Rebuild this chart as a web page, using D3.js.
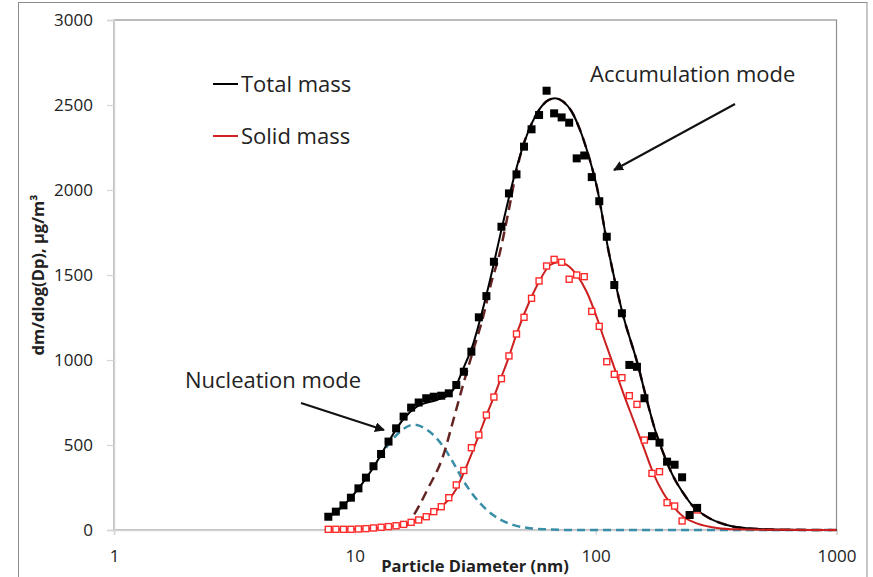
<!DOCTYPE html>
<html>
<head>
<meta charset="utf-8">
<script src="https://cdn.jsdelivr.net/npm/d3@7"></script>
<style>
body { margin: 0; background: #fff; }
text { font-family: "Open Sans", sans-serif; fill: #222; }
</style>
</head>
<body>
<div id="chart"></div>
<script>
// measured size distribution (SMPS channels)
var diam = [7.76, 8.34, 8.97, 9.63, 10.35, 11.12, 11.95, 12.85, 13.80, 14.84,
  15.94, 17.13, 18.41, 19.79, 21.27, 22.85, 24.55, 26.38, 28.35, 30.47,
  32.73, 35.18, 37.80, 40.62, 43.65, 46.91, 50.41, 54.17, 58.21, 62.55,
  67.22, 72.23, 77.62, 83.41, 89.64, 96.33, 103.5, 111.2, 119.5, 128.5,
  138.0, 148.4, 159.4, 171.3, 184.1, 197.9, 212.7, 228.5, 245.5, 263.8];
var totalMass = [78, 108, 145, 190, 245, 308, 375, 447, 520, 598,
  667, 720, 750, 775, 784, 790, 804, 853, 931, 1049,
  1251, 1376, 1578, 1784, 1980, 2092, 2255, 2357, 2441, 2584,
  2451, 2427, 2396, 2186, 2203, 2076, 1934, 1725, 1441, 1275,
  971, 960, 775, 552, 514, 402, 384, 310, 88, 130];
var solidMass = [4, 4, 4, 4, 6, 8, 12, 16, 20, 25,
  33, 45, 59, 78, 108, 137, 190, 265, 350, 484,
  559, 676, 782, 890, 1024, 1153, 1251, 1363, 1465, 1553,
  1592, 1575, 1475, 1500, 1490, 1286, 1198, 990, 916, 896,
  790, 739, 529, 333, 343, 161, 141, 53, 88, 118];

// fitted curves
var fitTotalDp = [7.76, 8.93, 10.31, 11.90, 13.74, 15.86, 18.08, 21.88, 24.45, 26.33,
  28.22, 31.06, 33.65, 36.43, 39.44, 42.74, 46.27, 50.10, 54.28, 58.76,
  63.63, 67.85, 73.43, 79.54, 86.13, 93.26, 101.1, 112.9, 128.5, 150.4,
  163.0, 176.5, 191.1, 210.2, 231.3, 254.5, 289.3, 350.3, 424.2, 583.2, 1000];
var fitTotal = [80, 142, 240, 365, 515, 650, 725, 765, 794, 850,
  950, 1098, 1275, 1471, 1686, 1902, 2098, 2265, 2392, 2480,
  2529, 2539, 2519, 2461, 2353, 2206, 2020, 1647, 1290, 961,
  765, 588, 451, 314, 216, 137, 78, 29, 10, 2, 0];

var fitSolidDp = [7.76, 11.90, 14.83, 17.12, 19.76, 22.80, 26.33, 28.22, 30.38, 32.80,
  35.31, 37.96, 40.09, 43.41, 47.03, 53.42, 58.76, 64.66, 70.00, 75.86,
  83.47, 91.84, 101.1, 107.6, 118.4, 130.3, 143.4, 157.8, 173.6, 191.1,
  210.2, 231.3, 263.0, 318.4, 385.3, 583.2, 1000];
var fitSolid = [2, 10, 25, 45, 80, 135, 240, 330, 440, 560,
  680, 790, 880, 1010, 1157, 1353, 1471, 1559, 1575, 1560,
  1500, 1400, 1250, 1137, 971, 804, 647, 490, 333, 216,
  137, 78, 39, 12, 4, 1, 0];

var accumDp = [16.16, 17.23, 20.14, 23.31, 25.65, 28.22, 31.06, 34.18, 36.78, 39.82,
  43.41, 46.71, 50.10, 54.28, 58.76, 63.63, 67.85, 73.43, 79.54, 86.13,
  93.26, 101.1, 112.9, 128.5, 150.4, 163.0, 176.5, 191.1, 210.2, 231.3,
  254.5, 289.3, 350.3, 424.2, 583.2, 1000];
var accum = [15, 69, 245, 440, 647, 860, 1060, 1260, 1450, 1620,
  1870, 2100, 2265, 2392, 2480, 2529, 2539, 2519, 2461, 2353,
  2206, 2020, 1647, 1290, 961, 765, 588, 451, 314, 216,
  137, 78, 29, 10, 2, 0];

var nuclDp = [7.76, 8.93, 10.31, 11.90, 13.74, 15.41, 17.62, 20.14, 23.31, 25.65,
  28.22, 31.06, 35.31, 40.09, 45.39, 51.75, 61.65, 78.29, 1000];
var nucl = [75, 140, 240, 365, 500, 578, 620, 585, 490, 395,
  290, 205, 118, 62, 30, 13, 4, 0, 0];

var xTicks = [1, 10, 100, 1000];
var yTicks = [0, 500, 1000, 1500, 2000, 2500, 3000];

var width = 873, height = 577;

var svg = d3.select('#chart').append('svg')
    .attr('width', width)
    .attr('height', height);

// outer chart frame
svg.append('rect')
    .attr('x', 18.5).attr('y', 2.5)
    .attr('width', 848.5).attr('height', 600)
    .attr('fill', 'none')
    .attr('stroke', '#8c8c8c');

var xScale = d3.scaleLog().domain([1, 1000]).range([114, 836.5]);
var yScale = d3.scaleLinear().domain([0, 3000]).range([530, 20]);

// plot area border
svg.append('rect')
    .attr('x', 114).attr('y', 20)
    .attr('width', 722.5).attr('height', 510)
    .attr('fill', 'none')
    .attr('stroke', '#8f8f8f')
    .attr('stroke-width', 1.2);

var yAxisG = svg.append('g')
    .attr('transform', 'translate(114,0)')
    .call(d3.axisLeft(yScale).tickValues(yTicks).tickSize(7).tickPadding(14).tickFormat(d3.format('d')));
var xAxisG = svg.append('g')
    .attr('transform', 'translate(0,530)')
    .call(d3.axisBottom(xScale).tickValues(xTicks).tickSize(5).tickPadding(15).tickFormat(d3.format('d')));

[yAxisG, xAxisG].forEach(function (g) {
    g.select('.domain').attr('stroke', '#d4d4d4').attr('stroke-width', 1.5);
    g.selectAll('.tick line').attr('stroke', '#d4d4d4').attr('stroke-width', 1.2);
    g.selectAll('.tick text')
        .style('font-family', '"Open Sans", sans-serif')
        .style('font-size', '17px')
        .attr('fill', '#333');
});

function lineOf(xs) {
    return d3.line()
        .x(function (d, i) { return xScale(xs[i]); })
        .y(function (d) { return yScale(d); })
        .curve(d3.curveMonotoneX);
}

// nucleation mode (dashed)
svg.append('path')
    .attr('fill', 'none')
    .attr('stroke', '#3a8ea8')
    .attr('stroke-width', 2.5)
    .attr('stroke-dasharray', '8,5')
    .attr('d', lineOf(nuclDp)(nucl));

// accumulation mode (dashed)
svg.append('path')
    .attr('fill', 'none')
    .attr('stroke', '#632523')
    .attr('stroke-width', 2.5)
    .attr('stroke-dasharray', '10,6')
    .attr('d', lineOf(accumDp)(accum));

svg.append('path')
    .attr('fill', 'none')
    .attr('stroke', '#000')
    .attr('stroke-width', 2)
    .attr('d', lineOf(fitTotalDp)(fitTotal));

svg.append('path')
    .attr('fill', 'none')
    .attr('stroke', '#cc1f1f')
    .attr('stroke-width', 2)
    .attr('d', lineOf(fitSolidDp)(fitSolid));

// data markers
svg.append('g').selectAll('rect')
    .data(solidMass)
    .enter().append('rect')
    .attr('x', function (d, i) { return xScale(diam[i]) - 3; })
    .attr('y', function (d) { return yScale(d) - 3; })
    .attr('width', 6).attr('height', 6)
    .attr('fill', '#fff')
    .attr('stroke', '#ff2a2a')
    .attr('stroke-width', 1.4);

svg.append('g').selectAll('rect')
    .data(totalMass)
    .enter().append('rect')
    .attr('x', function (d, i) { return xScale(diam[i]) - 4; })
    .attr('y', function (d) { return yScale(d) - 4; })
    .attr('width', 8).attr('height', 8)
    .attr('fill', '#000');

// legend
var legend = [{ name: 'Total mass', color: '#000', y: 84 }, { name: 'Solid mass', color: '#d42020', y: 136 }];
legend.forEach(function (l) {
    svg.append('line')
        .attr('x1', 213).attr('x2', 238)
        .attr('y1', l.y).attr('y2', l.y)
        .attr('stroke', l.color).attr('stroke-width', 2);
    svg.append('text')
        .attr('x', 241).attr('y', l.y + 8)
        .style('font-size', '22px')
        .text(l.name);
});

// annotations
svg.append('defs').append('marker')
    .attr('id', 'arrow')
    .attr('viewBox', '0 0 10 10')
    .attr('refX', 9).attr('refY', 5)
    .attr('markerWidth', 5).attr('markerHeight', 5)
    .attr('orient', 'auto')
    .append('path')
    .attr('d', 'M0,0 L10,5 L0,10 z')
    .attr('fill', '#111');

svg.append('text')
    .attr('x', 590).attr('y', 82)
    .style('font-size', '22px')
    .text('Accumulation mode');
svg.append('line')
    .attr('x1', 735).attr('y1', 104)
    .attr('x2', 614).attr('y2', 170)
    .attr('stroke', '#111').attr('stroke-width', 2)
    .attr('marker-end', 'url(#arrow)');

svg.append('text')
    .attr('x', 185).attr('y', 388)
    .style('font-size', '22px')
    .text('Nucleation mode');
svg.append('line')
    .attr('x1', 301).attr('y1', 403)
    .attr('x2', 384).attr('y2', 430)
    .attr('stroke', '#111').attr('stroke-width', 2)
    .attr('marker-end', 'url(#arrow)');

// axis titles
svg.append('text')
    .attr('x', 475).attr('y', 572)
    .attr('text-anchor', 'middle')
    .style('font-size', '16.5px')
    .style('font-weight', 'bold')
    .text('Particle Diameter (nm)');

svg.append('text')
    .attr('transform', 'translate(44,275) rotate(-90)')
    .attr('text-anchor', 'middle')
    .style('font-size', '16.5px')
    .style('font-weight', 'bold')
    .text('dm/dlog(Dp), µg/m³');
</script>
</body>
</html>
